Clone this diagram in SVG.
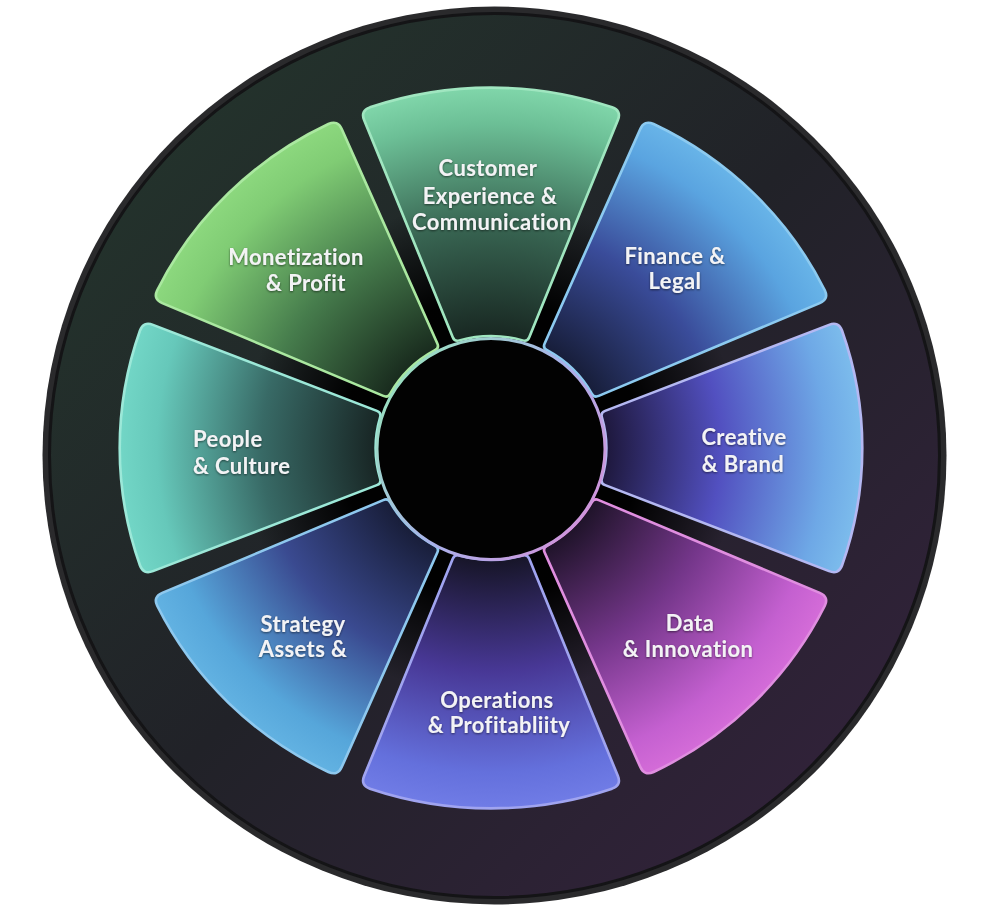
<svg xmlns="http://www.w3.org/2000/svg" width="994" height="919" viewBox="0 0 994 919">
<style>
.seg{stroke-width:2.6;stroke-linejoin:round}
.lbl{font-family:Lato,"Liberation Sans",sans-serif;font-weight:700;font-size:22px;letter-spacing:0.4px;fill:#f3f3f5;text-anchor:middle;filter:url(#ts)}
.st{text-anchor:start}
</style>
<defs>
<filter id="ts" x="-10%" y="-30%" width="120%" height="160%"><feDropShadow dx="0" dy="1" stdDeviation="1.2" flood-color="#000" flood-opacity="0.55"/></filter>
<linearGradient id="disk" x1="0" y1="0" x2="1" y2="1">
<stop offset="0" stop-color="#24382d"/>
<stop offset="0.5" stop-color="#212228"/>
<stop offset="1" stop-color="#36223f"/>
</linearGradient>
<radialGradient id="halo" cx="491" cy="448" r="250" gradientUnits="userSpaceOnUse">
<stop offset="0" stop-color="#000" stop-opacity="1"/>
<stop offset="0.6" stop-color="#000" stop-opacity="0.97"/>
<stop offset="0.8" stop-color="#000" stop-opacity="0.5"/>
<stop offset="1" stop-color="#000" stop-opacity="0"/>
</radialGradient>
<linearGradient id="ring" x1="0" y1="0.2" x2="1" y2="0.9">
<stop offset="0" stop-color="#98e4bc"/>
<stop offset="0.5" stop-color="#a9b2ea"/>
<stop offset="1" stop-color="#d88ed8"/>
</linearGradient>
<radialGradient id="g0" cx="0" cy="0" r="364" gradientUnits="userSpaceOnUse">
<stop offset="0.3" stop-color="#172520"/><stop offset="0.62" stop-color="#386552"/><stop offset="0.9" stop-color="#6cbf96"/><stop offset="1" stop-color="#80d6aa"/></radialGradient>
<radialGradient id="g1" cx="0" cy="0" r="364" gradientUnits="userSpaceOnUse">
<stop offset="0.3" stop-color="#161c36"/><stop offset="0.62" stop-color="#3a4c9a"/><stop offset="0.9" stop-color="#5aa4e0"/><stop offset="1" stop-color="#68b4e8"/></radialGradient>
<radialGradient id="g2" cx="0" cy="0" r="364" gradientUnits="userSpaceOnUse">
<stop offset="0.3" stop-color="#1c1638"/><stop offset="0.62" stop-color="#5250c0"/><stop offset="0.9" stop-color="#6ea8e6"/><stop offset="1" stop-color="#7cbcec"/></radialGradient>
<radialGradient id="g3" cx="0" cy="0" r="364" gradientUnits="userSpaceOnUse">
<stop offset="0.3" stop-color="#1c1226"/><stop offset="0.62" stop-color="#74368a"/><stop offset="0.9" stop-color="#c460d0"/><stop offset="1" stop-color="#d46cd8"/></radialGradient>
<radialGradient id="g4" cx="0" cy="0" r="364" gradientUnits="userSpaceOnUse">
<stop offset="0.3" stop-color="#151424"/><stop offset="0.62" stop-color="#483896"/><stop offset="0.9" stop-color="#6470dc"/><stop offset="1" stop-color="#707ce6"/></radialGradient>
<radialGradient id="g5" cx="0" cy="0" r="364" gradientUnits="userSpaceOnUse">
<stop offset="0.3" stop-color="#171c36"/><stop offset="0.62" stop-color="#3a4a90"/><stop offset="0.9" stop-color="#56a6da"/><stop offset="1" stop-color="#62b2e2"/></radialGradient>
<radialGradient id="g6" cx="0" cy="0" r="364" gradientUnits="userSpaceOnUse">
<stop offset="0.3" stop-color="#172322"/><stop offset="0.62" stop-color="#386a66"/><stop offset="0.9" stop-color="#66c8ba"/><stop offset="1" stop-color="#72d6c6"/></radialGradient>
<radialGradient id="g7" cx="0" cy="0" r="364" gradientUnits="userSpaceOnUse">
<stop offset="0.3" stop-color="#17281c"/><stop offset="0.62" stop-color="#467c4c"/><stop offset="0.9" stop-color="#80cc74"/><stop offset="1" stop-color="#8cd87e"/></radialGradient>
<path id="seg" d="M -118.7 -344.1 A 364 364 0 0 1 118.7 -344.1 Q 128.1 -340.7 124.4 -331.4 L 37.5 -111.9 Q 35.7 -107.2 31.0 -108.7 A 113 113 0 0 0 -31.0 -108.7 Q -35.7 -107.2 -37.5 -111.9 L -124.4 -331.4 Q -128.1 -340.7 -118.7 -344.1 Z"/>
</defs>

<g id="background">
<ellipse cx="494.5" cy="455.5" rx="452" ry="449" fill="#2a2a2c"/>
<ellipse cx="494.5" cy="455.5" rx="445" ry="442" fill="url(#disk)"/>
<ellipse cx="494.5" cy="455.5" rx="445" ry="442" fill="none" stroke="#141416" stroke-width="3"/>
<circle cx="491" cy="448" r="250" fill="url(#halo)"/>
</g>

<g id="node-customer">
<use href="#seg" class="seg" transform="translate(491 448) scale(1.02 0.99) rotate(0)" fill="url(#g0)" stroke="#a0e6c0"/>
<text class="lbl" x="488" y="176">Customer</text>
<text class="lbl" x="490" y="204">Experience &amp;</text>
<text class="lbl" x="492" y="230">Communication</text>
</g>
<g id="node-finance">
<use href="#seg" class="seg" transform="translate(491 448) scale(1.02 0.99) rotate(45)" fill="url(#g1)" stroke="#8ccaf0"/>
<text class="lbl" x="675" y="264">Finance &amp;</text>
<text class="lbl" x="675" y="289">Legal</text>
</g>
<g id="node-creative">
<use href="#seg" class="seg" transform="translate(491 448) scale(1.02 0.99) rotate(90)" fill="url(#g2)" stroke="#b4b8f2"/>
<text class="lbl" x="744" y="445">Creative</text>
<text class="lbl" x="743" y="472">&amp; Brand</text>
</g>
<g id="node-data">
<use href="#seg" class="seg" transform="translate(491 448) scale(1.02 0.99) rotate(135)" fill="url(#g3)" stroke="#e08ee0"/>
<text class="lbl" x="690" y="631">Data</text>
<text class="lbl" x="688" y="657">&amp; Innovation</text>
</g>
<g id="node-operations">
<use href="#seg" class="seg" transform="translate(491 448) scale(1.02 0.99) rotate(180)" fill="url(#g4)" stroke="#a0a4f0"/>
<text class="lbl" x="497" y="708">Operations</text>
<text class="lbl" x="499" y="733">&amp; Profitabliity</text>
</g>
<g id="node-strategy">
<use href="#seg" class="seg" transform="translate(491 448) scale(1.02 0.99) rotate(225)" fill="url(#g5)" stroke="#8ec8ee"/>
<text class="lbl" x="303" y="632">Strategy</text>
<text class="lbl" x="303" y="657">Assets &amp;</text>
</g>
<g id="node-people">
<use href="#seg" class="seg" transform="translate(491 448) scale(1.02 0.99) rotate(270)" fill="url(#g6)" stroke="#9ce8d8"/>
<text class="lbl st" x="193" y="447">People</text>
<text class="lbl st" x="193" y="474">&amp; Culture</text>
</g>
<g id="node-monetization">
<use href="#seg" class="seg" transform="translate(491 448) scale(1.02 0.99) rotate(315)" fill="url(#g7)" stroke="#aae8a0"/>
<text class="lbl" x="296" y="265">Monetization</text>
<text class="lbl" x="306" y="291">&amp; Profit</text>
</g>

<g id="node-center">
<ellipse cx="491" cy="449" rx="114" ry="110.5" fill="#020202" stroke="url(#ring)" stroke-width="3"/>
</g>
<g id="connectors"></g>
</svg>
